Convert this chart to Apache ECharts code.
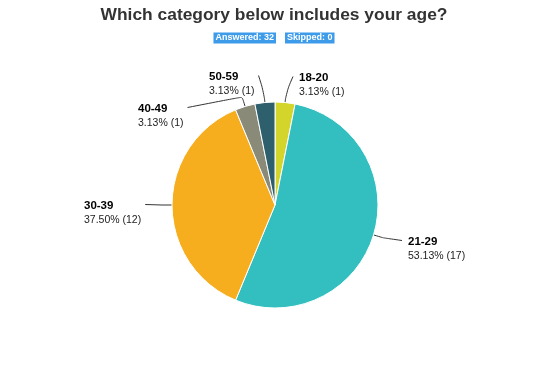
<!DOCTYPE html>
<html><head><meta charset="utf-8">
<script src="https://cdn.jsdelivr.net/npm/echarts@6/dist/echarts.min.js"></script>
<style>html,body{margin:0;padding:0;background:#fff}#c{width:548px;height:366px}</style>
</head><body><div id="c"></div>
<script>
const categories = ['18-20', '21-29', '30-39', '40-49', '50-59'];
const counts = [1, 17, 12, 1, 1];
const percents = ['3.13%', '53.13%', '37.50%', '3.13%', '3.13%'];
const colors = ['#d3d52b', '#33bfbf', '#f7ae1e', '#8a8a78', '#2e5f6d'];
const answered = 32, skipped = 0;
// label anchor positions (top-left of label text)
const labelX = [299, 408, 84, 138, 209];
const labelY = [71, 235, 199, 102, 70];
const lineSmooth = [0.6, 0.1, false, 0.15, 0.6];

const CX = 275, CY = 205, R = 103;
const total = counts.reduce((a, b) => a + b, 0);
const midAngles = [];
{ let acc = 0; counts.forEach(v => { midAngles.push((acc + v / 2) / total * 2 * Math.PI); acc += v; }); }

const chart = echarts.init(document.getElementById('c'));
chart.setOption({
  animation: false,
  title: {
    text: 'Which category below includes your age?',
    left: 'center', top: 2,
    textStyle: {fontFamily: 'Liberation Sans, Arial', fontSize: 17.4, fontWeight: 'bold', color: '#333'},
    subtext: '{b|Answered: ' + answered + '}{g|}{b|Skipped: ' + skipped + '}',
    itemGap: 8,
    subtextStyle: {
      rich: {
        b: {backgroundColor: '#3d9be9', color: '#fff', fontSize: 9, fontWeight: 'bold',
          fontFamily: 'Liberation Sans, Arial', padding: [1, 2, 1, 2], lineHeight: 11},
        g: {width: 9}
      }
    }
  },
  series: [{
    type: 'pie',
    center: [CX, CY],
    radius: R,
    startAngle: 90,
    clockwise: true,
    data: categories.map((c, i) => ({
      name: c, value: counts[i], itemStyle: {color: colors[i]},
      labelLine: {smooth: lineSmooth[i]}
    })),
    itemStyle: {borderColor: '#fff', borderWidth: 1},
    label: {
      formatter: p => '{n|' + p.name + '}\n{v|' + percents[p.dataIndex] + ' (' + p.value + ')}',
      rich: {
        n: {fontFamily: 'Liberation Sans, Arial', fontSize: 11.5, fontWeight: 'bold', color: '#000', lineHeight: 14},
        v: {fontFamily: 'Liberation Sans, Arial', fontSize: 10.5, color: '#222', lineHeight: 14}
      },
      align: 'left'
    },
    labelLine: {lineStyle: {color: '#333', width: 1}},
    labelLayout: p => {
      const i = p.dataIndex;
      const a = midAngles[i];
      const dx = Math.sin(a), dy = -Math.cos(a);
      const anchor = [CX + R * dx, CY + R * dy];
      const elbow = [CX + (R + 10) * dx, CY + (R + 10) * dy];
      const right = labelX[i] > CX;
      const attach = [right ? labelX[i] - 6 : labelX[i] + p.labelRect.width + 4, labelY[i] + 5.5];
      return {x: labelX[i], y: labelY[i], align: 'left', verticalAlign: 'top',
        labelLinePoints: [anchor, elbow, attach]};
    }
  }]
});
</script></body></html>
